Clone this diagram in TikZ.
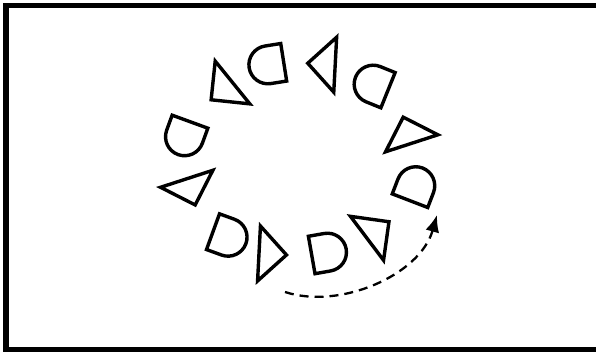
\documentclass[tikz,border=0pt]{standalone}
\usepackage{tikz}
\usetikzlibrary{arrows.meta}

\begin{document}
\begin{tikzpicture}[
  x=1pt, y=1pt,
  outline/.style={draw, line width=3.4pt, line join=miter},
  tri/.pic={\draw[outline] (0,27.5) -- (0,-27.5) -- (27.5,0) -- cycle;},
  dee/.pic={\draw[outline] (0,19) -- (0,-19) -- (16,-19)
            arc[start angle=-90, end angle=90, radius=19] -- cycle;},
  sweep/.style={dash pattern=on 9pt off 6pt, line width=2.3pt},
  sweeptip/.style={-{Latex[length=17pt, width=14pt]}}
]
  \useasboundingbox (0,0) rectangle (596,352);
  \clip (0,0) rectangle (596,352);
  \draw[line width=5.6pt] (6.2,2) rectangle (700,346.5);

  % ring of shapes, clockwise from the top
  \pic[rotate=189] at (283.7,289.7) {dee};
  \pic[rotate=177] at (335.2,287.3) {tri};
  \pic[rotate=158] at (388,261.8) {dee};
  \pic[rotate=108] at (411.7,208.7) {tri};
  \pic[rotate=69]  at (410,151.3) {dee};
  \pic[rotate=37]  at (367,113.7) {tri};
  \pic[rotate=10]  at (311.7,97) {dee};
  \pic[rotate=357] at (259,98.5) {tri};
  \pic[rotate=340] at (213,120.3) {dee};
  \pic[rotate=288] at (186.7,173.2) {tri};
  \pic[rotate=250] at (190,230.3) {dee};
  \pic[rotate=219] at (232.5,269.5) {tri};

  \coordinate (from) at (285,60);
  \coordinate (to) at (437,137);
  \draw[sweep, sweeptip] (from) .. controls (340,42) and (420,77) .. (to);
\end{tikzpicture}
\end{document}
